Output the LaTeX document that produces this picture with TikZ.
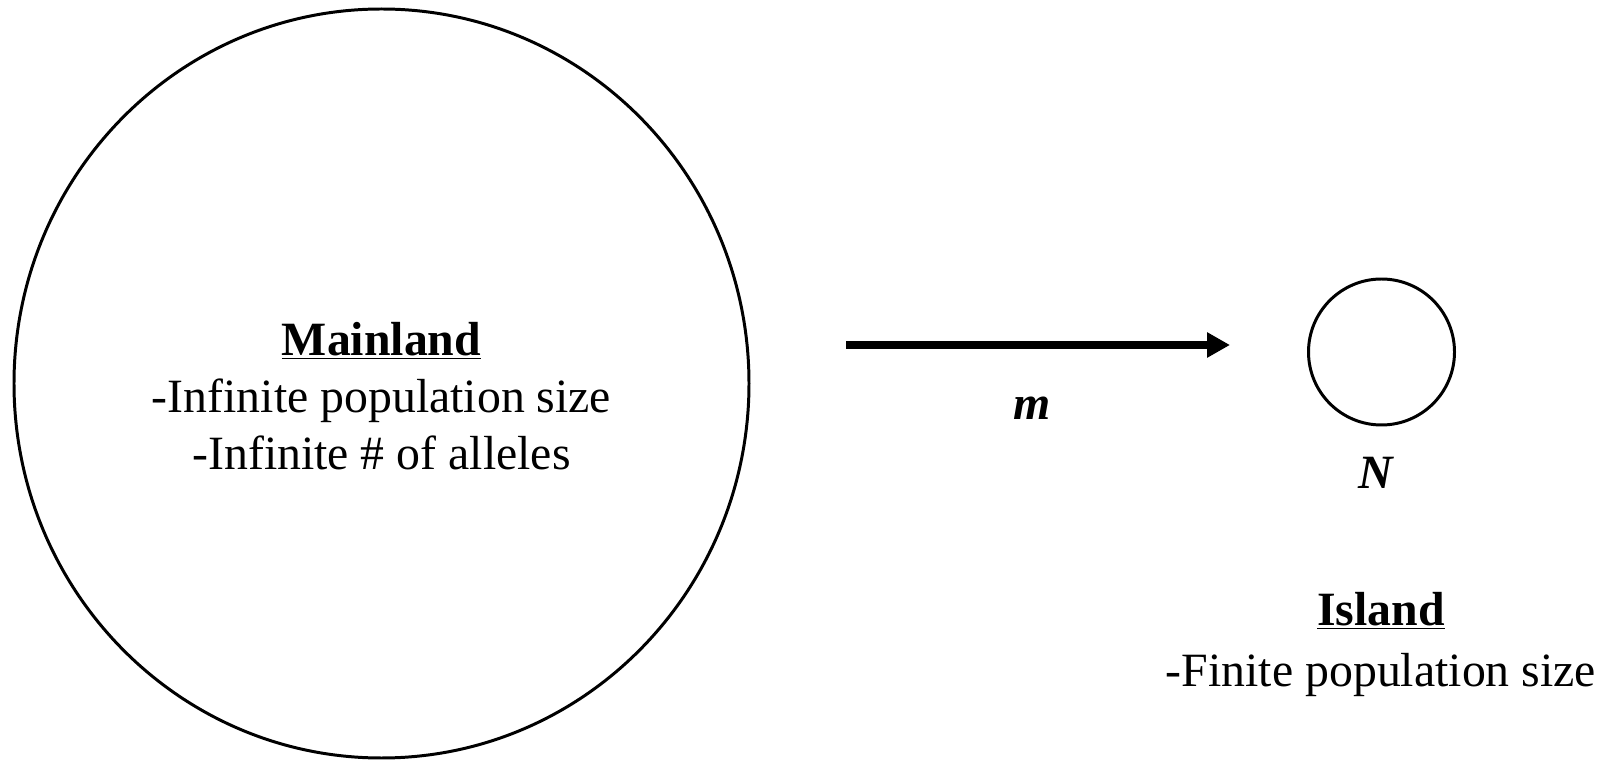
\documentclass[tikz,border=0pt]{standalone}
\usepackage{fontspec}
\setmainfont{Liberation Serif}
\usetikzlibrary{arrows.meta,shapes.geometric}
\providecommand{\PicW}{1610}
\providecommand{\PicH}{761}
\providecommand{\IslandR}{146}
\tikzset{
    bigtext/.style={font=\fontsize{27.2}{32.6}\selectfont, inner sep=0pt},
    popline/.style={line width=1.7pt},
    migarrow/.style={line width=4.5pt, -{Triangle[length=0.46cm,width=0.48cm]}}
}
\begin{document}
\begin{tikzpicture}[x=0.02cm,y=0.02cm]

% Page background
\useasboundingbox (0,0) rectangle (\PicW,\PicH);
\fill[white] (0,0) rectangle (\PicW,\PicH);

% =====================================================
% MAINLAND
% =====================================================
\node[ellipse, draw, popline, minimum width=735*0.02cm, minimum height=749*0.02cm, inner sep=0pt]
    (mainland) at (381.5,377.5) {};

\node[bigtext, align=center] (mainlandtext) at (381.5,365) {
\textbf{\underline{Mainland}}\\
-Infinite population size\\
-Infinite \# of alleles
};

% =====================================================
% MIGRATION
% =====================================================
\coordinate (migfrom) at (846,416);
\coordinate (migto) at (1230,416);
\draw[migarrow] (migfrom) -- (migto);

\node[bigtext] (migrate) at (1032,353) {\textbf{\textit{m}}};

% =====================================================
% ISLAND
% =====================================================
\node[circle, draw, popline, minimum size=\IslandR*0.02cm, inner sep=0pt]
    (island) at (1381.5,409) {};

\node[bigtext] (islandsize) at (1376,288) {\textbf{\textit{N}}};

\node[bigtext, align=center, font=\fontsize{27.2}{34.4}\selectfont] (islandtext) at (1381,116.5) {
\textbf{\underline{Island}}\\
-Finite population size
};

\end{tikzpicture}
\end{document}
